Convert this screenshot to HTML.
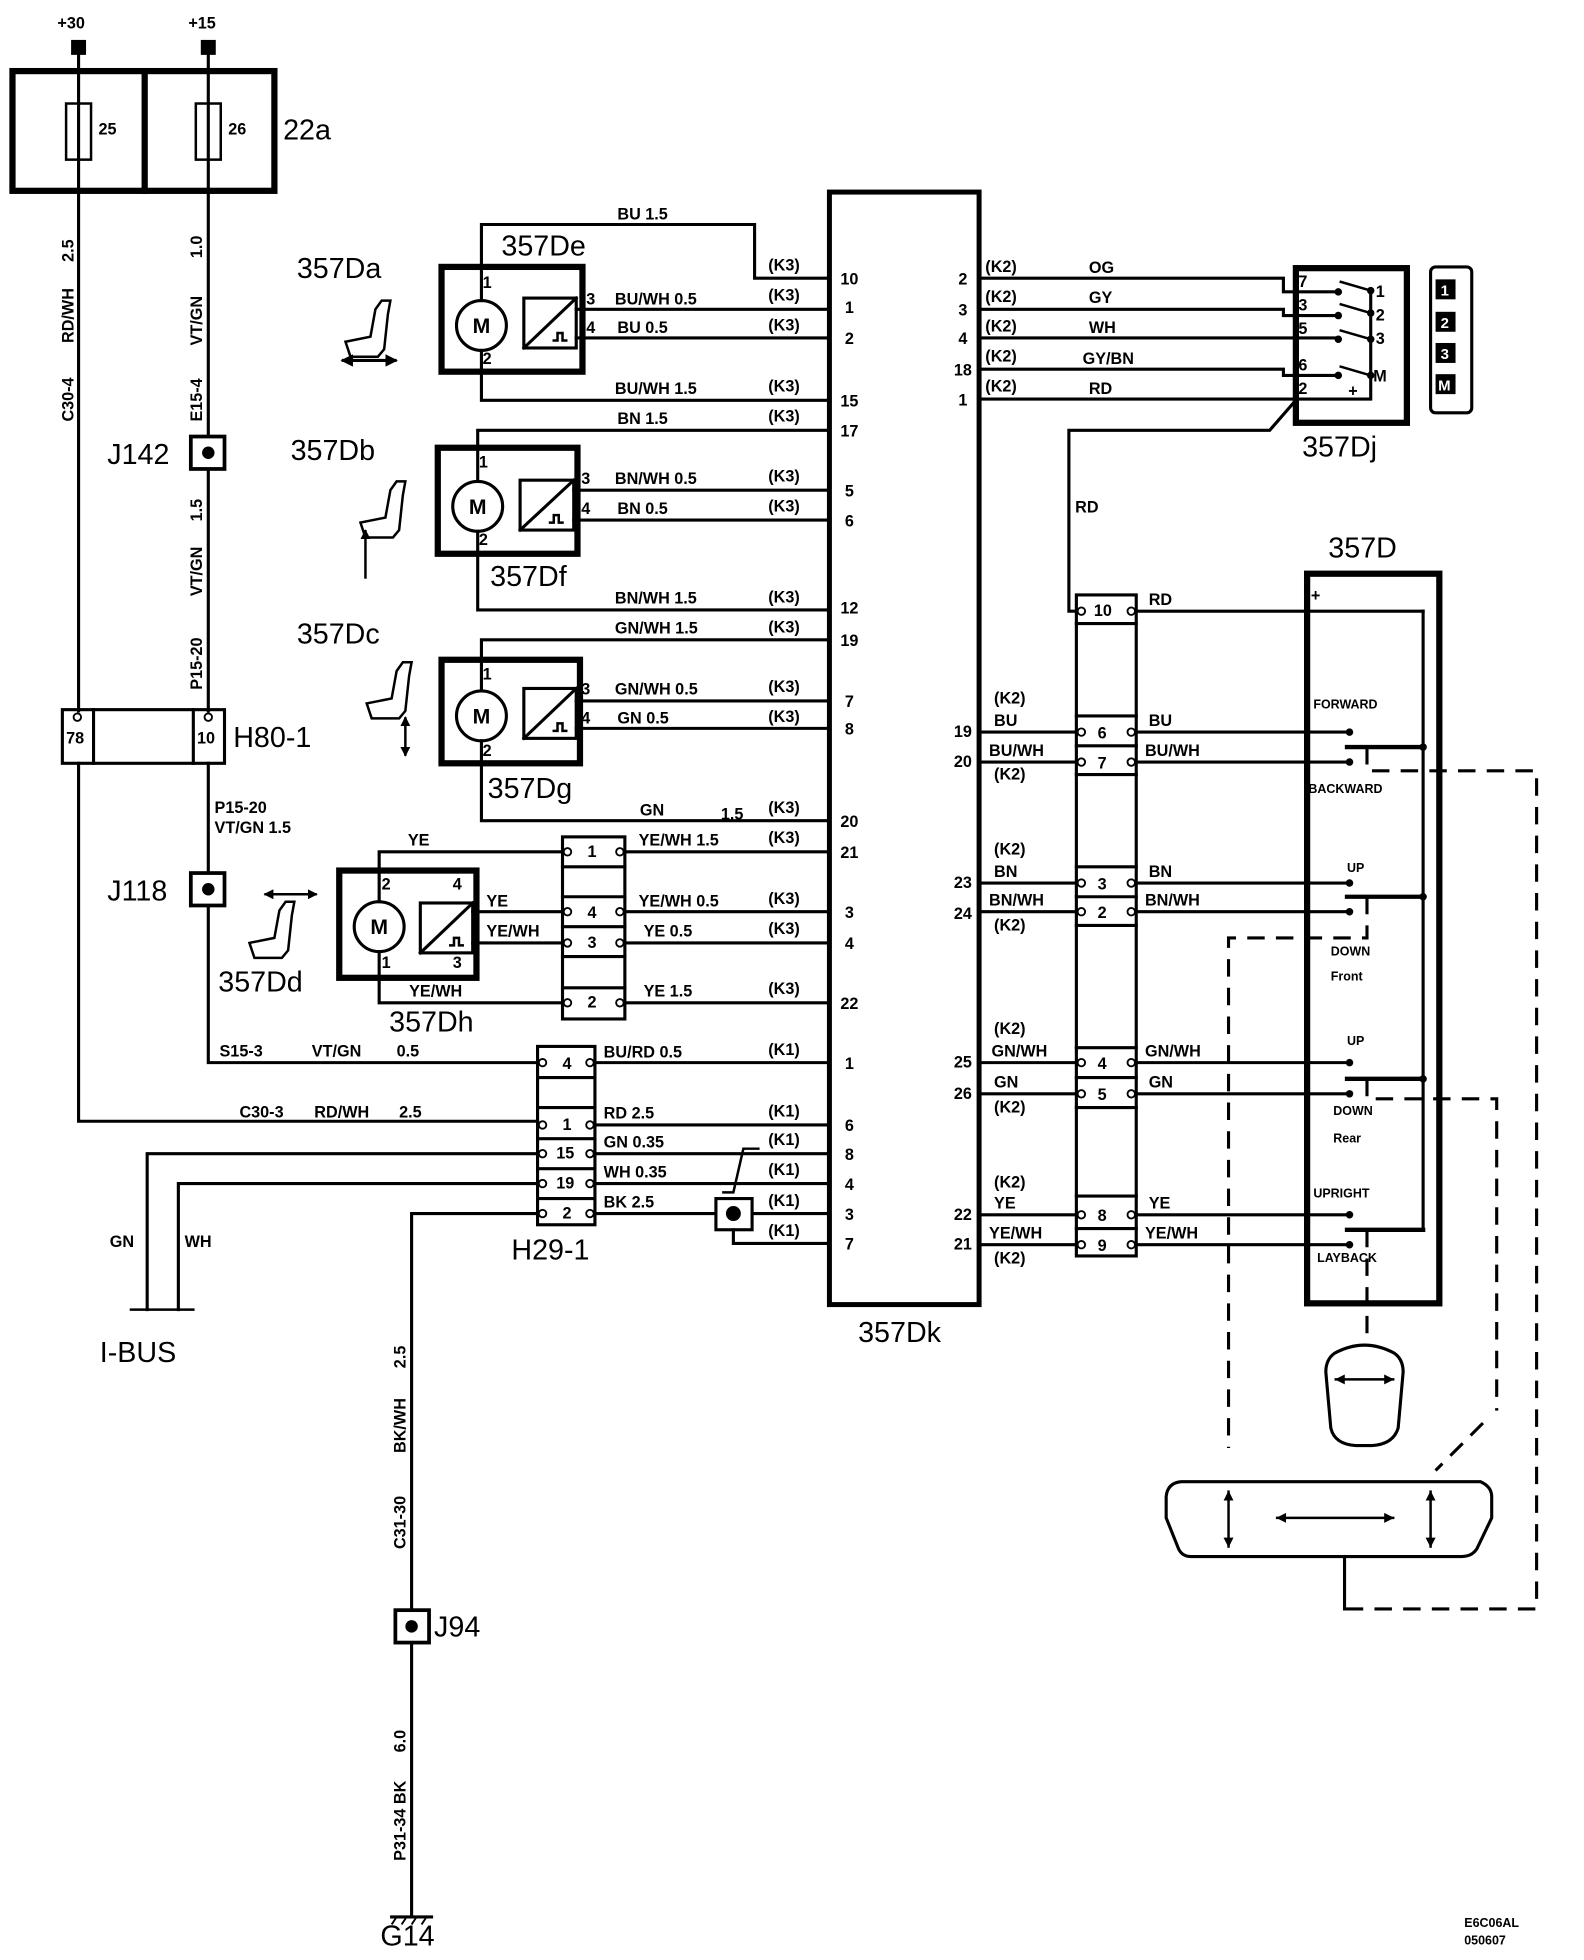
<!DOCTYPE html>
<html><head><meta charset="utf-8"><style>
html,body{margin:0;padding:0;background:#fff;}
svg{display:block;}
text{font-family:"Liberation Sans",Arial,sans-serif;fill:#000;}
.s{font-size:13px;font-weight:bold;}
.xs{font-size:10px;font-weight:bold;}
.b{font-size:23px;}
.m{font-size:17px;font-weight:bold;}
.w{fill:#fff;font-size:12px;font-weight:bold;}
</style></head><body>
<svg width="1584" height="1960" viewBox="0 0 1270 1571.5" preserveAspectRatio="none" xmlns="http://www.w3.org/2000/svg">
<defs>
<marker id="ah" viewBox="0 0 10 10" refX="9" refY="5" markerWidth="4" markerHeight="4" orient="auto-start-reverse"><path d="M0,0 L10,5 L0,10 z" fill="#000"/></marker>
<path id="seat" d="M22,30 L26,8 L31,1 L38,1 L36,12 L33,40 L28,46 L6,46 L2,34 Z"/>
<path id="pulse" d="M0,0 L4,0 L4,-6 L8,-6 L8,0 L12,0"/>
</defs>
<g fill="none" stroke="#000" stroke-width="2.5" stroke-linecap="square">
<rect x="10" y="57" width="210" height="96" stroke-width="5"/>
<line x1="116" y1="57" x2="116" y2="153" stroke-width="5"/>
<rect x="53" y="83" width="20" height="45" stroke-width="2"/>
<rect x="157" y="83" width="20" height="45" stroke-width="2"/>
<line x1="63" y1="40" x2="63" y2="570"/>
<polyline points="63,612 63,899 431,899"/>
<line x1="167" y1="40" x2="167" y2="570"/>
<polyline points="167,612 167,852 431,852"/>
<rect x="50" y="569" width="130" height="43"/>
<line x1="75" y1="569" x2="75" y2="612"/>
<line x1="155" y1="569" x2="155" y2="612"/>
<polyline points="431,925 118,925 118,1050"/>
<polyline points="431,949 143,949 143,1050"/>
<line x1="105" y1="1050" x2="155" y2="1050" stroke-width="2"/>
<polyline points="431,973 330,973 330,1537"/>
<line x1="314" y1="1537" x2="346" y2="1537"/>
<rect x="431" y="839" width="46" height="143"/>
<line x1="431" y1="864" x2="477" y2="864"/><line x1="431" y1="888" x2="477" y2="888"/>
<line x1="431" y1="913" x2="477" y2="913"/><line x1="431" y1="937" x2="477" y2="937"/>
<line x1="431" y1="961" x2="477" y2="961"/>
<line x1="477" y1="852" x2="665" y2="852"/>
<line x1="477" y1="902" x2="665" y2="902"/>
<line x1="477" y1="925" x2="665" y2="925"/>
<line x1="477" y1="949" x2="665" y2="949"/>
<line x1="477" y1="973" x2="573" y2="973"/>
<line x1="603" y1="973" x2="665" y2="973"/>
<rect x="574" y="961" width="29" height="25"/>
<polyline points="588,986 588,997 665,997"/>
<polyline points="580,956 588,956 596,921 608,921" stroke-width="2"/>
<rect x="665" y="154" width="120" height="892" stroke-width="4"/>
<!-- De -->
<rect x="354" y="214" width="113" height="84" stroke-width="5"/>
<circle cx="386" cy="261" r="20"/>
<rect x="420" y="239" width="42" height="40"/>
<line x1="420" y1="279" x2="462" y2="239"/>
<polyline points="386,241 386,180 605,180 605,223 665,223"/>
<polyline points="386,281 386,321 665,321"/>
<line x1="462" y1="248" x2="665" y2="248"/>
<line x1="462" y1="271" x2="665" y2="271"/>
<!-- Df -->
<rect x="351" y="359" width="112" height="85" stroke-width="5"/>
<circle cx="383" cy="406" r="20"/>
<rect x="417" y="385" width="43" height="40"/>
<line x1="417" y1="425" x2="460" y2="385"/>
<polyline points="383,386 383,345 665,345"/>
<polyline points="383,426 383,489 665,489"/>
<line x1="460" y1="393" x2="665" y2="393"/>
<line x1="460" y1="417" x2="665" y2="417"/>
<!-- Dg -->
<rect x="354" y="529" width="111" height="83" stroke-width="5"/>
<circle cx="386" cy="574" r="20"/>
<rect x="420" y="552" width="42" height="40"/>
<line x1="420" y1="592" x2="462" y2="552"/>
<polyline points="386,554 386,513 665,513"/>
<polyline points="386,594 386,658 665,658"/>
<line x1="462" y1="562" x2="665" y2="562"/>
<line x1="462" y1="584" x2="665" y2="584"/>
<!-- Dh -->
<rect x="272" y="698" width="110" height="86" stroke-width="5"/>
<circle cx="304" cy="743" r="20"/>
<rect x="337" y="724" width="42" height="40"/>
<line x1="337" y1="764" x2="379" y2="724"/>
<polyline points="304,723 304,683 451,683"/>
<polyline points="304,763 304,804 451,804"/>
<line x1="379" y1="731" x2="451" y2="731"/>
<line x1="379" y1="756" x2="451" y2="756"/>
<rect x="451" y="671" width="50" height="146"/>
<line x1="451" y1="695" x2="501" y2="695"/><line x1="451" y1="719" x2="501" y2="719"/>
<line x1="451" y1="743" x2="501" y2="743"/><line x1="451" y1="767" x2="501" y2="767"/>
<line x1="451" y1="792" x2="501" y2="792"/>
<line x1="501" y1="683" x2="665" y2="683"/>
<line x1="501" y1="731" x2="665" y2="731"/>
<line x1="501" y1="756" x2="665" y2="756"/>
<line x1="501" y1="804" x2="665" y2="804"/>
<g stroke-width="2" stroke-linecap="butt">
<use href="#pulse" transform="translate(443,273)"/>
<use href="#pulse" transform="translate(440,419)"/>
<use href="#pulse" transform="translate(443,586)"/>
<use href="#pulse" transform="translate(360,758)"/>
</g>
<polyline points="785,223 1029,223 1029,234 1073,234"/>
<polyline points="785,248 1029,248 1029,253 1073,253"/>
<polyline points="785,271 1073,271"/>
<polyline points="785,296 1029,296 1029,301 1073,301"/>
<polyline points="785,320 1099,320 1099,233"/>
<rect x="1039" y="215" width="89" height="124" stroke-width="5"/>
<line x1="1075" y1="226" x2="1099" y2="233" stroke-width="2"/>
<line x1="1075" y1="244" x2="1099" y2="251" stroke-width="2"/>
<line x1="1075" y1="265" x2="1099" y2="272" stroke-width="2"/>
<line x1="1075" y1="294" x2="1099" y2="301" stroke-width="2"/>
<polyline points="1038,322 1018,345 857,345 857,490 863,490"/>
<rect x="1147" y="214" width="33" height="117" rx="4"/>
<rect x="863" y="477" width="48" height="530"/>
<line x1="863" y1="500" x2="911" y2="500"/>
<line x1="863" y1="574" x2="911" y2="574"/><line x1="863" y1="598" x2="911" y2="598"/><line x1="863" y1="621" x2="911" y2="621"/>
<line x1="863" y1="695" x2="911" y2="695"/><line x1="863" y1="719" x2="911" y2="719"/><line x1="863" y1="742" x2="911" y2="742"/>
<line x1="863" y1="840" x2="911" y2="840"/><line x1="863" y1="864" x2="911" y2="864"/><line x1="863" y1="888" x2="911" y2="888"/>
<line x1="863" y1="959" x2="911" y2="959"/><line x1="863" y1="985" x2="911" y2="985"/>
<line x1="785" y1="587" x2="863" y2="587"/><line x1="785" y1="611" x2="863" y2="611"/>
<line x1="785" y1="708" x2="863" y2="708"/><line x1="785" y1="731" x2="863" y2="731"/>
<line x1="785" y1="852" x2="863" y2="852"/><line x1="785" y1="877" x2="863" y2="877"/>
<line x1="785" y1="974" x2="863" y2="974"/><line x1="785" y1="998" x2="863" y2="998"/>
<line x1="911" y1="490" x2="1141" y2="490"/>
<line x1="911" y1="587" x2="1082" y2="587"/><line x1="911" y1="611" x2="1082" y2="611"/>
<line x1="911" y1="708" x2="1082" y2="708"/><line x1="911" y1="731" x2="1082" y2="731"/>
<line x1="911" y1="852" x2="1082" y2="852"/><line x1="911" y1="877" x2="1082" y2="877"/>
<line x1="911" y1="974" x2="1082" y2="974"/><line x1="911" y1="998" x2="1082" y2="998"/>
<rect x="1048" y="460" width="106" height="585" stroke-width="5"/>
<line x1="1141" y1="490" x2="1141" y2="986"/>
<g stroke-width="3.5">
<line x1="1080" y1="599" x2="1141" y2="599"/><line x1="1080" y1="719" x2="1141" y2="719"/>
<line x1="1080" y1="865" x2="1141" y2="865"/><line x1="1080" y1="986" x2="1141" y2="986"/>
</g>
<g stroke-dasharray="14,9" stroke-linecap="butt">
<polyline points="1096,599 1096,618 1232,618 1232,1290 1078,1290"/>
<polyline points="1096,719 1096,752 985,752 985,1161"/>
<polyline points="1096,865 1096,881 1200,881 1200,1131"/>
<line x1="1189" y1="1141" x2="1151" y2="1179"/>
<line x1="1096" y1="986" x2="1096" y2="1078"/>
</g>
<line x1="1078" y1="1248" x2="1078" y2="1290"/>
<path d="M1070,1085 Q1094,1072 1118,1085 Q1125,1090 1125,1100 L1121,1145 Q1117,1158 1100,1159 L1087,1159 Q1070,1158 1067,1145 L1063,1100 Q1063,1090 1070,1085 Z"/>
<line x1="1071" y1="1106" x2="1117" y2="1106" marker-start="url(#ah)" marker-end="url(#ah)" stroke-width="2"/>
<path d="M947,1188 L1187,1188 Q1196,1192 1196,1200 L1196,1217 L1184,1242 Q1180,1248 1172,1248 L955,1248 Q948,1248 945,1242 L935,1217 L935,1200 Q936,1189 947,1188 Z"/>
<line x1="985" y1="1196" x2="985" y2="1240" marker-start="url(#ah)" marker-end="url(#ah)" stroke-width="2"/>
<line x1="1147" y1="1196" x2="1147" y2="1240" marker-start="url(#ah)" marker-end="url(#ah)" stroke-width="2"/>
<line x1="1024" y1="1217" x2="1117" y2="1217" marker-start="url(#ah)" marker-end="url(#ah)" stroke-width="2"/>
</g>
<g fill="none" stroke="#000" stroke-width="2">
<use href="#seat" transform="translate(275,240)"/>
<line x1="274" y1="289" x2="318" y2="289" marker-start="url(#ah)" marker-end="url(#ah)" stroke-width="2.5"/>
<use href="#seat" transform="translate(287,385)"/>
<line x1="293" y1="425" x2="293" y2="464" marker-start="url(#ah)" stroke-width="2"/>
<use href="#seat" transform="translate(292,530)"/>
<line x1="325" y1="575" x2="325" y2="606" marker-start="url(#ah)" marker-end="url(#ah)" stroke-width="2"/>
<use href="#seat" transform="translate(198,722)"/>
<line x1="212" y1="717" x2="254" y2="717" marker-start="url(#ah)" marker-end="url(#ah)" stroke-width="2"/>
</g>
<g fill="#000">
<rect x="57" y="32" width="12" height="12"/><rect x="161" y="32" width="12" height="12"/>
<rect x="1151" y="224" width="16" height="16"/><rect x="1151" y="250" width="16" height="16"/>
<rect x="1151" y="275" width="16" height="16"/><rect x="1151" y="300" width="16" height="16"/>
<circle cx="588" cy="973" r="6"/>
<circle cx="1073" cy="234" r="3"/><circle cx="1073" cy="253" r="3"/><circle cx="1073" cy="272" r="3"/><circle cx="1073" cy="301" r="3"/>
<circle cx="1099" cy="233" r="3"/><circle cx="1099" cy="251" r="3"/><circle cx="1099" cy="272" r="3"/><circle cx="1099" cy="301" r="3"/>
<circle cx="1082" cy="587" r="3"/><circle cx="1082" cy="611" r="3"/><circle cx="1082" cy="708" r="3"/><circle cx="1082" cy="731" r="3"/>
<circle cx="1082" cy="852" r="3"/><circle cx="1082" cy="877" r="3"/><circle cx="1082" cy="974" r="3"/><circle cx="1082" cy="998" r="3"/>
<circle cx="1141" cy="599" r="3"/><circle cx="1141" cy="719" r="3"/><circle cx="1141" cy="865" r="3"/>
</g>
<g fill="#fff" stroke="#000" stroke-width="3">
<rect x="153" y="350" width="27" height="26"/><rect x="153" y="700" width="27" height="26"/><rect x="317" y="1291" width="27" height="26"/>
</g>
<g fill="#000"><circle cx="167" cy="363" r="5"/><circle cx="167" cy="713" r="5"/><circle cx="330" cy="1304" r="5"/></g>
<g stroke="#000" stroke-width="1.5"><line x1="318" y1="1537" x2="314" y2="1543"/><line x1="326" y1="1537" x2="322" y2="1543"/><line x1="334" y1="1537" x2="330" y2="1543"/><line x1="342" y1="1537" x2="338" y2="1543"/></g>
<g fill="#fff" stroke="#000" stroke-width="1.5">
<circle cx="62" cy="575" r="3"/><circle cx="167" cy="575" r="3"/>
<circle cx="435" cy="852" r="3"/><circle cx="473" cy="852" r="3"/><circle cx="435" cy="902" r="3"/><circle cx="473" cy="902" r="3"/>
<circle cx="435" cy="925" r="3"/><circle cx="473" cy="925" r="3"/><circle cx="435" cy="949" r="3"/><circle cx="473" cy="949" r="3"/>
<circle cx="435" cy="973" r="3"/><circle cx="473" cy="973" r="3"/>
<circle cx="455" cy="683" r="3"/><circle cx="497" cy="683" r="3"/><circle cx="455" cy="731" r="3"/><circle cx="497" cy="731" r="3"/>
<circle cx="455" cy="756" r="3"/><circle cx="497" cy="756" r="3"/><circle cx="455" cy="804" r="3"/><circle cx="497" cy="804" r="3"/>
<circle cx="867" cy="490" r="3"/><circle cx="907" cy="490" r="3"/>
<circle cx="867" cy="587" r="3"/><circle cx="907" cy="587" r="3"/><circle cx="867" cy="611" r="3"/><circle cx="907" cy="611" r="3"/>
<circle cx="867" cy="708" r="3"/><circle cx="907" cy="708" r="3"/><circle cx="867" cy="731" r="3"/><circle cx="907" cy="731" r="3"/>
<circle cx="867" cy="852" r="3"/><circle cx="907" cy="852" r="3"/><circle cx="867" cy="877" r="3"/><circle cx="907" cy="877" r="3"/>
<circle cx="867" cy="974" r="3"/><circle cx="907" cy="974" r="3"/><circle cx="867" cy="998" r="3"/><circle cx="907" cy="998" r="3"/>
</g>
<!-- TEXT -->
<g class="m" text-anchor="middle">
<text x="386" y="267">M</text><text x="383" y="412">M</text><text x="386" y="580">M</text><text x="304" y="749">M</text>
</g>
<text class="s" x="46" y="23">+30</text><text class="s" x="151" y="23">+15</text>
<text class="s" x="79" y="108">25</text><text class="s" x="183" y="108">26</text>
<text class="b" x="227" y="112">22a</text>
<g class="s">
<text transform="translate(59,210) rotate(-90)">2.5</text>
<text transform="translate(59,275) rotate(-90)">RD/WH</text>
<text transform="translate(59,338) rotate(-90)">C30-4</text>
<text transform="translate(162,207) rotate(-90)">1.0</text>
<text transform="translate(162,277) rotate(-90)">VT/GN</text>
<text transform="translate(162,338) rotate(-90)">E15-4</text>
<text transform="translate(162,418) rotate(-90)">1.5</text>
<text transform="translate(162,478) rotate(-90)">VT/GN</text>
<text transform="translate(162,553) rotate(-90)">P15-20</text>
<text transform="translate(325,1097) rotate(-90)">2.5</text>
<text transform="translate(325,1165) rotate(-90)">BK/WH</text>
<text transform="translate(325,1242) rotate(-90)">C31-30</text>
<text transform="translate(325,1405) rotate(-90)">6.0</text>
<text transform="translate(325,1492) rotate(-90)">P31-34 BK</text>
</g>
<text class="b" x="86" y="372">J142</text>
<text class="b" x="86" y="722">J118</text>
<text class="b" x="348" y="1312">J94</text>
<text class="b" x="305" y="1560">G14</text>
<text class="b" x="80" y="1092">I-BUS</text>
<text class="s" x="88" y="1000">GN</text><text class="s" x="148" y="1000">WH</text>
<text class="s" x="53" y="596">78</text><text class="s" x="158" y="596">10</text>
<text class="b" x="187" y="599">H80-1</text>
<text class="s" x="172" y="652">P15-20</text>
<text class="s" x="172" y="668">VT/GN    1.5</text>
<text class="s" x="176" y="847">S15-3</text><text class="s" x="250" y="847">VT/GN</text><text class="s" x="318" y="847">0.5</text>
<text class="s" x="192" y="896">C30-3</text><text class="s" x="252" y="896">RD/WH</text><text class="s" x="320" y="896">2.5</text>
<text class="b" x="410" y="1010">H29-1</text>
<g class="s">
<text x="451" y="857">4</text><text x="451" y="906">1</text><text x="446" y="929">15</text><text x="446" y="953">19</text><text x="451" y="977">2</text>
<text x="484" y="848">BU/RD   0.5</text><text x="484" y="897">RD   2.5</text><text x="484" y="920">GN   0.35</text><text x="484" y="944">WH  0.35</text><text x="484" y="968">BK   2.5</text>
<text x="471" y="687">1</text><text x="471" y="736">4</text><text x="471" y="760">3</text><text x="471" y="808">2</text>
<text x="327" y="678">YE</text><text x="390" y="727">YE</text><text x="390" y="751">YE/WH</text><text x="328" y="799">YE/WH</text>
<text x="512" y="678">YE/WH  1.5</text><text x="512" y="727">YE/WH  0.5</text><text x="516" y="751">YE   0.5</text><text x="516" y="799">YE   1.5</text>
<text x="495" y="176">BU   1.5</text><text x="470" y="244">3</text><text x="470" y="267">4</text>
<text x="493" y="244">BU/WH  0.5</text><text x="495" y="267">BU   0.5</text><text x="493" y="316">BU/WH   1.5</text>
<text x="495" y="340">BN   1.5</text><text x="466" y="388">3</text><text x="466" y="412">4</text>
<text x="493" y="388">BN/WH  0.5</text><text x="495" y="412">BN   0.5</text><text x="493" y="484">BN/WH   1.5</text>
<text x="493" y="508">GN/WH  1.5</text><text x="466" y="557">3</text><text x="466" y="580">4</text>
<text x="493" y="557">GN/WH  0.5</text><text x="495" y="580">GN   0.5</text><text x="513" y="654">GN</text><text x="578" y="657">1.5</text>
<text x="387" y="231">1</text><text x="387" y="292">2</text><text x="384" y="375">1</text><text x="384" y="437">2</text>
<text x="387" y="545">1</text><text x="387" y="606">2</text>
<text x="306" y="713">2</text><text x="363" y="713">4</text><text x="306" y="776">1</text><text x="363" y="776">3</text>
</g>
<g class="s">
<text x="616" y="217">(K3)</text><text x="616" y="241">(K3)</text><text x="616" y="265">(K3)</text><text x="616" y="314">(K3)</text>
<text x="616" y="338">(K3)</text><text x="616" y="386">(K3)</text><text x="616" y="410">(K3)</text><text x="616" y="483">(K3)</text>
<text x="616" y="507">(K3)</text><text x="616" y="555">(K3)</text><text x="616" y="579">(K3)</text><text x="616" y="652">(K3)</text>
<text x="616" y="676">(K3)</text><text x="616" y="725">(K3)</text><text x="616" y="749">(K3)</text><text x="616" y="797">(K3)</text>
<text x="616" y="846">(K1)</text><text x="616" y="895">(K1)</text><text x="616" y="918">(K1)</text><text x="616" y="942">(K1)</text>
<text x="616" y="967">(K1)</text><text x="616" y="991">(K1)</text>
</g>
<g class="s" text-anchor="middle">
<text x="681" y="228">10</text><text x="681" y="251">1</text><text x="681" y="276">2</text><text x="681" y="326">15</text>
<text x="681" y="350">17</text><text x="681" y="398">5</text><text x="681" y="422">6</text><text x="681" y="492">12</text>
<text x="681" y="518">19</text><text x="681" y="567">7</text><text x="681" y="589">8</text><text x="681" y="663">20</text>
<text x="681" y="688">21</text><text x="681" y="736">3</text><text x="681" y="761">4</text><text x="681" y="809">22</text>
<text x="681" y="857">1</text><text x="681" y="907">6</text><text x="681" y="930">8</text><text x="681" y="954">4</text>
<text x="681" y="978">3</text><text x="681" y="1002">7</text>
<text x="772" y="228">2</text><text x="772" y="253">3</text><text x="772" y="276">4</text><text x="772" y="301">18</text><text x="772" y="325">1</text>
<text x="772" y="591">19</text><text x="772" y="615">20</text><text x="772" y="712">23</text><text x="772" y="737">24</text>
<text x="772" y="856">25</text><text x="772" y="881">26</text><text x="772" y="978">22</text><text x="772" y="1002">21</text>
</g>
<g class="s">
<text x="790" y="218">(K2)</text><text x="790" y="242">(K2)</text><text x="790" y="266">(K2)</text><text x="790" y="290">(K2)</text><text x="790" y="314">(K2)</text>
<text x="873" y="219">OG</text><text x="873" y="243">GY</text><text x="873" y="267">WH</text><text x="868" y="292">GY/BN</text><text x="873" y="316">RD</text>
<text x="1041" y="230">7</text><text x="1041" y="249">3</text><text x="1041" y="268">5</text><text x="1041" y="297">6</text><text x="1041" y="316">2</text>
<text x="1103" y="238">1</text><text x="1103" y="257">2</text><text x="1103" y="276">3</text><text x="1101" y="306">M</text>
<text x="1081" y="318">+</text>
<text x="862" y="411">RD</text>
<text x="877" y="494">10</text><text x="921" y="485">RD</text>
<text x="797" y="564">(K2)</text><text x="797" y="582">BU</text><text x="793" y="606">BU/WH</text><text x="797" y="625">(K2)</text>
<text x="880" y="592">6</text><text x="880" y="616">7</text><text x="921" y="582">BU</text><text x="918" y="606">BU/WH</text>
<text x="797" y="685">(K2)</text><text x="797" y="703">BN</text><text x="793" y="726">BN/WH</text><text x="797" y="746">(K2)</text>
<text x="880" y="713">3</text><text x="880" y="736">2</text><text x="921" y="703">BN</text><text x="918" y="726">BN/WH</text>
<text x="797" y="829">(K2)</text><text x="795" y="847">GN/WH</text><text x="797" y="872">GN</text><text x="797" y="892">(K2)</text>
<text x="880" y="857">4</text><text x="880" y="882">5</text><text x="918" y="847">GN/WH</text><text x="921" y="872">GN</text>
<text x="797" y="952">(K2)</text><text x="797" y="969">YE</text><text x="793" y="993">YE/WH</text><text x="797" y="1013">(K2)</text>
<text x="880" y="979">8</text><text x="880" y="1003">9</text><text x="921" y="969">YE</text><text x="918" y="993">YE/WH</text>
<text x="1051" y="482">+</text>
</g>
<g class="xs">
<text x="1053" y="568">FORWARD</text><text x="1049" y="636">BACKWARD</text>
<text x="1080" y="699">UP</text><text x="1067" y="766">DOWN</text><text x="1067" y="786">Front</text>
<text x="1080" y="838">UP</text><text x="1069" y="894">DOWN</text><text x="1069" y="916">Rear</text>
<text x="1053" y="960">UPRIGHT</text><text x="1056" y="1012">LAYBACK</text>
</g>
<text class="w" x="1155" y="237">1</text><text class="w" x="1155" y="263">2</text><text class="w" x="1155" y="288">3</text><text class="w" x="1153" y="313">M</text>
<text class="b" x="402" y="205">357De</text>
<text class="b" x="238" y="223">357Da</text>
<text class="b" x="233" y="369">357Db</text>
<text class="b" x="393" y="470">357Df</text>
<text class="b" x="238" y="516">357Dc</text>
<text class="b" x="391" y="640">357Dg</text>
<text class="b" x="175" y="795">357Dd</text>
<text class="b" x="312" y="827">357Dh</text>
<text class="b" x="688" y="1076">357Dk</text>
<text class="b" x="1044" y="366">357Dj</text>
<text class="b" x="1065" y="447">357D</text>
<text class="xs" x="1174" y="1545">E6C06AL</text>
<text class="xs" x="1174" y="1559">050607</text>
</svg>
</body></html>
